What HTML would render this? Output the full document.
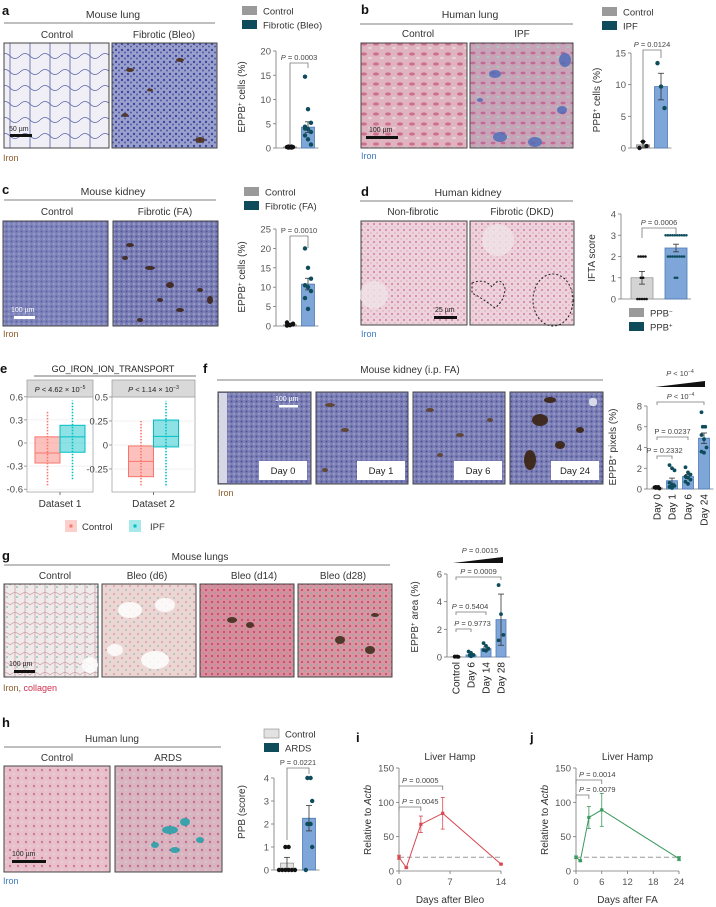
<!DOCTYPE html>
<html><head><meta charset="utf-8"><style>
html,body{margin:0;padding:0;background:#fff;}
svg{display:block;font-family:"Liberation Sans",sans-serif;}
</style></head><body>
<svg id="fig" width="716" height="907" viewBox="0 0 716 907" xmlns="http://www.w3.org/2000/svg">
<defs>
<pattern id="pLungC" width="20" height="16" patternUnits="userSpaceOnUse"><rect width="20" height="16" fill="#f0eff5"/><path d="M0 8 Q5 3 10 8 T20 8 M10 0 L10 16" stroke="#5a62aa" stroke-width="0.8" fill="none"/></pattern>
<pattern id="pLungF" width="6" height="6" patternUnits="userSpaceOnUse"><rect width="6" height="6" fill="#9aa0cc"/><circle cx="2" cy="2" r="1.2" fill="#3c46a0"/><circle cx="5" cy="4.5" r="1" fill="#5058a8"/></pattern>
<pattern id="pKidC" width="5" height="5" patternUnits="userSpaceOnUse"><rect width="5" height="5" fill="#7f84bb"/><circle cx="1.5" cy="1.5" r="1" fill="#5a60a4"/><circle cx="4" cy="4" r="0.7" fill="#b0b4d8"/></pattern>
<pattern id="pKidF" width="5" height="5" patternUnits="userSpaceOnUse"><rect width="5" height="5" fill="#7a7eb4"/><circle cx="1.5" cy="1.5" r="1" fill="#4e5498"/><circle cx="4" cy="4" r="0.8" fill="#b8bad8"/></pattern>
<pattern id="pHLC" width="12" height="10" patternUnits="userSpaceOnUse"><rect width="12" height="10" fill="#dfb3c0"/><ellipse cx="4" cy="4" rx="3" ry="1.6" fill="#cf6f8f"/><ellipse cx="10" cy="8" rx="2" ry="1.2" fill="#e8d4d8"/></pattern>
<pattern id="pHLF" width="10" height="10" patternUnits="userSpaceOnUse"><rect width="10" height="10" fill="#c8a4b8"/><ellipse cx="3" cy="3" rx="2.5" ry="1.4" fill="#c06a98"/><ellipse cx="8" cy="7" rx="1.6" ry="1" fill="#a9c8c0"/></pattern>
<pattern id="pHK" width="6" height="6" patternUnits="userSpaceOnUse"><rect width="6" height="6" fill="#ecd2da"/><circle cx="2" cy="2" r="1" fill="#d67aa0"/><circle cx="5" cy="5" r="0.7" fill="#e0a0b8"/></pattern>
<pattern id="pFK" width="5" height="5" patternUnits="userSpaceOnUse"><rect width="5" height="5" fill="#7d80b6"/><circle cx="1.5" cy="1.5" r="1" fill="#4c5298"/><circle cx="4" cy="4" r="0.7" fill="#b4b6d6"/></pattern>
<pattern id="pGC" width="10" height="10" patternUnits="userSpaceOnUse"><rect width="10" height="10" fill="#f1eaea"/><path d="M0 5 Q5 0 10 5 M5 0 L5 10" stroke="#c9a0a8" stroke-width="0.8" fill="none"/><circle cx="7" cy="7" r="0.8" fill="#55b0a0"/></pattern>
<pattern id="pG6" width="8" height="8" patternUnits="userSpaceOnUse"><rect width="8" height="8" fill="#ecd6d4"/><circle cx="2" cy="2" r="1" fill="#d2a0a4"/><circle cx="6" cy="6" r="0.7" fill="#60b0a0"/></pattern>
<pattern id="pG14" width="6" height="6" patternUnits="userSpaceOnUse"><rect width="6" height="6" fill="#d88d9c"/><circle cx="2" cy="2" r="1.1" fill="#c84a6a"/><circle cx="5" cy="5" r="0.6" fill="#68a898"/></pattern>
<pattern id="pG28" width="6" height="6" patternUnits="userSpaceOnUse"><rect width="6" height="6" fill="#d896a2"/><circle cx="2" cy="2" r="1.1" fill="#c8506c"/><circle cx="5" cy="5" r="0.8" fill="#78b0a8"/></pattern>
<pattern id="pHC" width="8" height="8" patternUnits="userSpaceOnUse"><rect width="8" height="8" fill="#e8c0cc"/><circle cx="2" cy="2" r="1.2" fill="#d07898"/><circle cx="6" cy="6" r="0.8" fill="#f2e0e4"/></pattern>
<pattern id="pHA" width="8" height="8" patternUnits="userSpaceOnUse"><rect width="8" height="8" fill="#d8b4c0"/><circle cx="2" cy="2" r="1.2" fill="#c86a90"/><circle cx="6" cy="6" r="0.8" fill="#e8d8dc"/></pattern>
</defs>

<g>
<text x="2" y="15" font-size="13" font-weight="bold" fill="#111">a</text>
<text x="113" y="18" font-size="10.5" text-anchor="middle" fill="#333">Mouse lung</text>
<line x1="4" y1="23" x2="215" y2="23" stroke="#555" stroke-width="0.8"/>
<text x="57" y="38" font-size="10" text-anchor="middle" fill="#333">Control</text>
<text x="164" y="38" font-size="10" text-anchor="middle" fill="#333">Fibrotic (Bleo)</text>
<rect x="4" y="43" width="105" height="105" fill="url(#pLungC)" stroke="#444"/>
<rect x="112" y="43" width="105" height="105" fill="url(#pLungF)" stroke="#444"/>
<g fill="#4a2a10" opacity="0.85"><ellipse cx="130" cy="70" rx="4" ry="2"/><ellipse cx="150" cy="90" rx="3" ry="1.5"/><ellipse cx="180" cy="60" rx="4" ry="2"/><ellipse cx="200" cy="140" rx="5" ry="3"/><ellipse cx="125" cy="115" rx="3" ry="2"/></g>
<rect x="10" y="134" width="22" height="3" fill="#111"/>
<text x="9" y="131" font-size="7" fill="#222">50 µm</text>
<text x="3" y="161" font-size="9" fill="#8a5a2a">Iron</text>
</g>

<g>
<text x="361" y="14" font-size="13" font-weight="bold" fill="#111">b</text>
<text x="470" y="18" font-size="10.5" text-anchor="middle" fill="#333">Human lung</text>
<line x1="360" y1="24" x2="573" y2="24" stroke="#555" stroke-width="0.8"/>
<text x="418" y="37" font-size="10" text-anchor="middle" fill="#333">Control</text>
<text x="522" y="37" font-size="10" text-anchor="middle" fill="#333">IPF</text>
<rect x="361" y="43" width="106" height="105" fill="url(#pHLC)" stroke="#444"/>
<rect x="470" y="43" width="103" height="105" fill="url(#pHLF)" stroke="#444"/>
<g fill="#4a6ab8" opacity="0.8"><ellipse cx="495" cy="74" rx="6" ry="4"/><ellipse cx="565" cy="60" rx="6" ry="7"/><ellipse cx="500" cy="137" rx="7" ry="5"/><ellipse cx="535" cy="142" rx="7" ry="5"/><ellipse cx="562" cy="110" rx="5" ry="4"/><ellipse cx="480" cy="100" rx="3" ry="2"/></g>
<rect x="366" y="136" width="32" height="3" fill="#111"/>
<text x="369" y="132" font-size="7" fill="#222">100 µm</text>
<text x="361" y="159" font-size="9" fill="#3a78c0">Iron</text>
</g>

<g>
<text x="2" y="194" font-size="13" font-weight="bold" fill="#111">c</text>
<text x="113" y="195" font-size="10.5" text-anchor="middle" fill="#333">Mouse kidney</text>
<line x1="4" y1="200" x2="216" y2="200" stroke="#555" stroke-width="0.8"/>
<text x="57" y="215" font-size="10" text-anchor="middle" fill="#333">Control</text>
<text x="165" y="215" font-size="10" text-anchor="middle" fill="#333">Fibrotic (FA)</text>
<rect x="3" y="221" width="105" height="105" fill="url(#pKidC)" stroke="#444"/>
<rect x="113" y="221" width="105" height="105" fill="url(#pKidF)" stroke="#444"/>
<g fill="#3a2010" opacity="0.85"><ellipse cx="130" cy="245" rx="4" ry="2"/><ellipse cx="150" cy="268" rx="5" ry="2"/><ellipse cx="170" cy="285" rx="4" ry="3"/><ellipse cx="160" cy="300" rx="3" ry="2"/><ellipse cx="180" cy="310" rx="4" ry="2"/><ellipse cx="200" cy="290" rx="3" ry="2"/><ellipse cx="140" cy="320" rx="3" ry="2"/><ellipse cx="125" cy="258" rx="3" ry="2"/><ellipse cx="210" cy="300" rx="3" ry="4"/></g>
<rect x="14" y="316" width="21" height="3" fill="#fff"/>
<text x="11" y="312" font-size="7" fill="#fff">100 µm</text>
<text x="3" y="337" font-size="9" fill="#8a5a2a">Iron</text>
</g>

<g>
<text x="361" y="196" font-size="13" font-weight="bold" fill="#111">d</text>
<text x="468" y="196" font-size="10.5" text-anchor="middle" fill="#333">Human kidney</text>
<line x1="360" y1="201" x2="573" y2="201" stroke="#555" stroke-width="0.8"/>
<text x="413" y="215" font-size="10" text-anchor="middle" fill="#333">Non-fibrotic</text>
<text x="522" y="215" font-size="10" text-anchor="middle" fill="#333">Fibrotic (DKD)</text>
<rect x="361" y="221" width="106" height="104" fill="url(#pHK)" stroke="#444"/>
<rect x="470" y="221" width="104" height="104" fill="url(#pHK)" stroke="#444"/>
<circle cx="374" cy="295" r="14" fill="#f0e4e8" opacity="0.8"/>
<circle cx="498" cy="240" r="16" fill="#f0e4e8" opacity="0.8"/>
<path d="M472 283 Q485 278 492 287 Q500 275 505 288 Q505 300 495 308 Q482 298 472 293 Z" fill="none" stroke="#222" stroke-dasharray="2,2"/>
<ellipse cx="553" cy="300" rx="20" ry="26" fill="none" stroke="#222" stroke-dasharray="2,2"/>
<rect x="434" y="316" width="23" height="3" fill="#111"/>
<text x="435" y="312" font-size="7" fill="#222">25 µm</text>
<text x="361" y="337" font-size="9" fill="#3a78c0">Iron</text>
</g>

<g>
<text x="0" y="373" font-size="13" font-weight="bold" fill="#111">e</text>
<text x="113" y="372" font-size="9" text-anchor="middle" fill="#222">GO_IRON_ION_TRANSPORT</text>
<line x1="34" y1="376" x2="196" y2="376" stroke="#444" stroke-width="0.7"/>
</g>

<g>
<text x="203" y="373" font-size="13" font-weight="bold" fill="#111">f</text>
<text x="410" y="373" font-size="10" text-anchor="middle" fill="#333">Mouse kidney (i.p. FA)</text>
<line x1="217" y1="380" x2="603" y2="380" stroke="#555" stroke-width="0.8"/>
<rect x="218" y="392" width="93" height="92" fill="url(#pFK)" stroke="#444"/>
<rect x="316" y="392" width="92" height="92" fill="url(#pFK)" stroke="#444"/>
<rect x="413" y="392" width="92" height="92" fill="url(#pFK)" stroke="#444"/>
<rect x="510" y="392" width="93" height="92" fill="url(#pFK)" stroke="#444"/>
<rect x="219" y="393" width="8" height="90" fill="#d8d8e4"/>
<g fill="#5a3a18" opacity="0.8"><ellipse cx="330" cy="405" rx="5" ry="2"/><ellipse cx="345" cy="430" rx="4" ry="2"/><ellipse cx="325" cy="470" rx="3" ry="2"/><ellipse cx="430" cy="410" rx="4" ry="2"/><ellipse cx="460" cy="435" rx="4" ry="2"/><ellipse cx="490" cy="420" rx="3" ry="2"/><ellipse cx="440" cy="455" rx="3" ry="2"/></g>
<g fill="#3a2210" opacity="0.9"><ellipse cx="540" cy="420" rx="8" ry="6"/><ellipse cx="530" cy="460" rx="6" ry="10"/><ellipse cx="560" cy="445" rx="5" ry="4"/><ellipse cx="550" cy="400" rx="6" ry="3"/><ellipse cx="580" cy="430" rx="4" ry="3"/></g>
<rect x="589" y="398" width="8" height="8" rx="3" fill="#d8dae8"/>
<rect x="279" y="405" width="19" height="2.5" fill="#fff"/>
<text x="275" y="401" font-size="7" fill="#fff">100 µm</text>
<rect x="259" y="461" width="48" height="19" fill="#fff"/><text x="283" y="474" font-size="9.5" text-anchor="middle" fill="#222">Day 0</text>
<rect x="357" y="461" width="48" height="19" fill="#fff"/><text x="381" y="474" font-size="9.5" text-anchor="middle" fill="#222">Day 1</text>
<rect x="454" y="461" width="48" height="19" fill="#fff"/><text x="478" y="474" font-size="9.5" text-anchor="middle" fill="#222">Day 6</text>
<rect x="551" y="461" width="48" height="19" fill="#fff"/><text x="575" y="474" font-size="9.5" text-anchor="middle" fill="#222">Day 24</text>
<text x="218" y="496" font-size="9" fill="#8a5a2a">Iron</text>
</g>

<g>
<text x="2" y="560" font-size="13" font-weight="bold" fill="#111">g</text>
<text x="200" y="560" font-size="10" text-anchor="middle" fill="#333">Mouse lungs</text>
<line x1="4" y1="565" x2="390" y2="565" stroke="#555" stroke-width="0.8"/>
<text x="55" y="579" font-size="10" text-anchor="middle" fill="#333">Control</text>
<text x="147" y="579" font-size="10" text-anchor="middle" fill="#333">Bleo (d6)</text>
<text x="254" y="579" font-size="10" text-anchor="middle" fill="#333">Bleo (d14)</text>
<text x="343" y="579" font-size="10" text-anchor="middle" fill="#333">Bleo (d28)</text>
<rect x="4" y="584" width="94" height="93" fill="url(#pGC)" stroke="#444"/>
<rect x="102" y="584" width="94" height="93" fill="url(#pG6)" stroke="#444"/>
<rect x="200" y="584" width="94" height="93" fill="url(#pG14)" stroke="#444"/>
<rect x="298" y="584" width="94" height="93" fill="url(#pG28)" stroke="#444"/>
<g fill="#fff" opacity="0.85"><ellipse cx="130" cy="610" rx="12" ry="8"/><ellipse cx="165" cy="605" rx="10" ry="7"/><ellipse cx="155" cy="660" rx="14" ry="9"/><ellipse cx="115" cy="650" rx="8" ry="6"/><ellipse cx="90" cy="665" rx="8" ry="8"/></g>
<g fill="#3a2a18" opacity="0.85"><ellipse cx="232" cy="620" rx="5" ry="3"/><ellipse cx="250" cy="625" rx="4" ry="3"/><ellipse cx="340" cy="640" rx="5" ry="4"/><ellipse cx="370" cy="650" rx="5" ry="4"/><ellipse cx="375" cy="615" rx="4" ry="2"/></g>
<rect x="14" y="670" width="21" height="3" fill="#111"/>
<text x="9" y="666" font-size="7" fill="#222">100 µm</text>
<text x="3" y="691" font-size="9" fill="#8a5a2a">Iron, <tspan fill="#d03050">collagen</tspan></text>
</g>

<g>
<text x="2" y="727" font-size="13" font-weight="bold" fill="#111">h</text>
<text x="112" y="742" font-size="10" text-anchor="middle" fill="#333">Human lung</text>
<line x1="4" y1="747" x2="221" y2="747" stroke="#555" stroke-width="0.8"/>
<text x="57" y="761" font-size="10" text-anchor="middle" fill="#333">Control</text>
<text x="168" y="761" font-size="10" text-anchor="middle" fill="#333">ARDS</text>
<rect x="4" y="766" width="106" height="106" fill="url(#pHC)" stroke="#444"/>
<rect x="115" y="766" width="107" height="106" fill="url(#pHA)" stroke="#444"/>
<g fill="#20a0a8" opacity="0.85"><ellipse cx="170" cy="830" rx="8" ry="4"/><ellipse cx="185" cy="822" rx="5" ry="4"/><ellipse cx="155" cy="845" rx="4" ry="3"/><ellipse cx="200" cy="840" rx="4" ry="3"/><ellipse cx="175" cy="850" rx="5" ry="3"/></g>
<rect x="12" y="860" width="34" height="3" fill="#111"/>
<text x="12" y="856" font-size="7" fill="#222">100 µm</text>
<text x="3" y="884" font-size="9" fill="#3a78c0">Iron</text>
</g>

<text x="356" y="742" font-size="13" font-weight="bold" fill="#111">i</text>
<text x="530" y="742" font-size="13" font-weight="bold" fill="#111">j</text>
</svg>

<script>
// a
const aCats = ['Control', 'Fibrotic (Bleo)'];
const aVals = [0.2, 4.3];
const aErr = [0.05, 1.1];
const aDots0 = [0.1, 0.2, 0.3, 0.2, 0.1, 0.3, 0.2];
const aDots1 = [14.7, 8.0, 5.2, 4.4, 3.9, 3.3, 2.6, 1.8, 0.7, 4.0];
const aTicks = [0, 5, 10, 15, 20];
// b
const bCats = ['Control', 'IPF'];
const bVals = [0.5, 9.7];
const bErr = [0.5, 2.1];
const bDots0 = [0.0, 1.0, 0.3];
const bDots1 = [13.4, 9.7, 6.3];
const bTicks = [0, 5, 10, 15];
// c
const cCats = ['Control', 'Fibrotic (FA)'];
const cVals = [0.3, 10.8];
const cErr = [0.1, 1.5];
const cDots0 = [0.1, 0.3, 0.6, 0.9, 0.2, 0.4];
const cDots1 = [20, 15, 12.2, 10.5, 10, 9, 7.2, 4.4];
const cTicks = [0, 5, 10, 15, 20, 25];
// d
const dCats = ['PPB−', 'PPB+'];
const dVals = [1.0, 2.4];
const dErr = [0.3, 0.18];
const dDots0 = [2, 2, 2, 2, 1, 1, 0, 0, 0, 0, 0];
const dDots1 = [3, 3, 3, 3, 3, 3, 3, 3, 3, 3, 2, 2, 2, 2, 2, 2, 2, 2, 1, 1];
const dTicks = [0, 1, 2, 3, 4];
// e
const eGroups = ['Dataset 1', 'Dataset 2'];
const eCtrlBox = [[-0.55, -0.26, -0.13, 0.08, 0.42], [-0.42, -0.33, -0.17, -0.01, 0.25]];
const eIpfBox = [[-0.47, -0.12, 0.08, 0.23, 0.55], [-0.42, -0.02, 0.09, 0.26, 0.46]];
const eTicks1 = [-0.6, -0.3, 0, 0.3, 0.6];
const eTicks2 = [-0.25, 0, 0.25, 0.5];
const eTickLabels1 = ['-0.6', '-0.3', '0', '0.3', '0.6'];
const eTickLabels2 = ['-0.25', '0', '0.25', '0.5'];
// f
const fCats = ['Day 0', 'Day 1', 'Day 6', 'Day 24'];
const fVals = [0.1, 0.8, 1.2, 4.9];
const fErr = [0.05, 0.25, 0.2, 0.5];
const fDots = [[0.1, 0.2, 0.05, 0.15, 0.1, 0.2], [2.3, 2.0, 1.8, 0.6, 0.4, 0.3, 0.2, 0.1], [2.1, 1.6, 1.4, 1.2, 1.1, 0.9, 0.7, 0.5], [7.4, 6.0, 6.0, 5.2, 4.8, 4.0, 3.6, 3.5]];
const fTicks = [0, 2, 4, 6, 8];
// g
const gCats = ['Control', 'Day 6', 'Day 14', 'Day 28'];
const gVals = [0.02, 0.15, 0.6, 2.7];
const gErr = [0.01, 0.06, 0.12, 1.85];
const gDots = [[0.02, 0.03, 0.01, 0.02, 0.03], [0.4, 0.3, 0.15, 0.1, 0.05, 0.1], [1.0, 0.8, 0.6, 0.5, 0.45], [5.2, 3.1, 1.6, 1.2]];
const gTicks = [0, 2, 4, 6];
// h
const hCats = ['Control', 'ARDS'];
const hVals = [0.3, 2.25];
const hErr = [0.25, 0.55];
const hDots0 = [1, 1, 0, 0, 0, 0, 0, 0];
const hDots1 = [4, 4, 3, 2, 2, 1, 0];
const hTicks = [0, 1, 2, 3, 4];
// i
const iDays = [0, 1, 3, 6, 14];
const iVals = [20, 5, 68, 84, 10];
const iErr = [3, 1, 12, 23, 1];
const iXTicks = [0, 7, 14];
// j
const jDays = [0, 1, 3, 6, 24];
const jVals = [20, 15, 78, 89, 18];
const jErr = [2, 1, 16, 24, 3];
const jXTicks = [0, 6, 12, 18, 24];
const lineYTicks = [0, 50, 100, 150];
const baselineHamp = 20;

const NS = 'http://www.w3.org/2000/svg';
const svg = document.getElementById('fig');
function mk(tag, attrs, parent) {
  const e = document.createElementNS(NS, tag);
  for (const k in attrs) e.setAttribute(k, attrs[k]);
  (parent || svg).appendChild(e);
  return e;
}
function nm(e, n) {
  
  
}
function txt(x, y, s, attrs, parent) {
  const t = mk('text', Object.assign({x: x, y: y, 'font-size': 8, fill: '#444'}, attrs || {}), parent);
  t.textContent = s;
  return t;
}
function ylabel(x, y, html, name) {
  const t = mk('text', {x: 0, y: 0, 'font-size': 10, fill: '#333', 'text-anchor': 'middle', transform: 'translate(' + x + ',' + y + ') rotate(-90)'});
  t.innerHTML = html;
  nm(t, name);
}
function legend(x, y, items, name) {
  const g = mk('g', {});
  nm(g, name);
  items.forEach((it, k) => {
    const r = mk('rect', {x: x, y: y + k * 14, width: 15, height: 9, fill: it[1], stroke: it[2] || 'none', 'stroke-width': 0.6}, g);
    nm(r, 'legend-swatch-' + k);
    const t = mk('text', {x: x + 21, y: y + k * 14 + 8.5, 'font-size': 9.5, fill: '#333'}, g);
    t.innerHTML = it[0];
    nm(t, 'legend-entry-' + k);
  });
}
function barChart(o) {
  const g = mk('g', {});
  nm(g, o.name);
  const top = o.ticks[o.ticks.length - 1];
  const ys = v => o.y0 - (v / top) * (o.y0 - o.yTop);
  const al = mk('line', {x1: o.ax, y1: o.y0, x2: o.ax, y2: o.yTop, stroke: '#777', 'stroke-width': 0.8}, g);
  nm(al, 'y-axis');
  o.ticks.forEach(t => {
    mk('line', {x1: o.ax - 3, x2: o.ax, y1: ys(t), y2: ys(t), stroke: '#777', 'stroke-width': 0.8}, g);
    const tl = txt(o.ax - 5, ys(t) + 3.5, String(t), {'text-anchor': 'end', 'font-size': 9.5, fill: '#555'}, g);
    nm(tl, 'y-tick-label');
  });
  const last = o.centers[o.centers.length - 1];
  const xl = mk('line', {x1: o.ax, x2: last + o.w / 2 + 4, y1: o.y0, y2: o.y0, stroke: '#777', 'stroke-width': 0.8}, g);
  nm(xl, 'x-axis');
  o.vals.forEach((v, i) => {
    const c = o.centers[i];
    const b = mk('rect', {x: c - o.w / 2, y: ys(v), width: o.w, height: o.y0 - ys(v), fill: o.fills[i], stroke: o.strokes[i], 'stroke-width': 0.8}, g);
    nm(b, 'bar-' + o.cats[i].toLowerCase().replace(/[^a-z0-9]+/g, '-'));
    const e1 = ys(v + o.errs[i]), e2 = ys(Math.max(0, v - o.errs[i]));
    mk('line', {x1: c, x2: c, y1: e1, y2: e2, stroke: '#333', 'stroke-width': 0.8}, g);
    mk('line', {x1: c - 3, x2: c + 3, y1: e1, y2: e1, stroke: '#333', 'stroke-width': 0.8}, g);
    mk('line', {x1: c - 3, x2: c + 3, y1: e2, y2: e2, stroke: '#333', 'stroke-width': 0.8}, g);
    const ds = o.dots[i];
    const seen = {};
    ds.forEach(d => { seen[d] = (seen[d] || 0) + 1; });
    const idx = {};
    ds.forEach((d, j) => {
      idx[d] = (idx[d] || 0);
      const m = seen[d];
      let dx;
      if (m > 1) dx = (idx[d] - (m - 1) / 2) * o.spread;
      else dx = ((j % 3) - 1) * o.spread;
      idx[d]++;
      const p = mk('circle', {cx: c + dx, cy: ys(d), r: o.r || 2.2, fill: o.dotColors[i]}, g);
      nm(p, 'data-point');
    });
    if (o.xlabels) {
      const t = mk('text', {x: 0, y: 0, 'font-size': 10, fill: '#222', 'text-anchor': 'end', transform: 'translate(' + (c + 3.5) + ',' + (o.y0 + 5) + ') rotate(-90)'}, g);
      t.textContent = o.cats[i];
      nm(t, 'x-tick-label');
    }
  });
  (o.brackets || []).forEach(br => {
    const x1 = o.centers[br[0]], x2 = o.centers[br[1]];
    const y = br[2];
    const p = mk('path', {d: 'M' + x1 + ' ' + (y + br[3]) + ' V' + y + ' H' + x2 + ' V' + (y + br[4]), stroke: '#777', 'stroke-width': 0.8, fill: 'none'}, g);
    nm(p, 'significance-bracket');
    const t = mk('text', {x: (x1 + x2) / 2 + (br[6] || 0), y: y - 3, 'font-size': 7.5, fill: '#444', 'text-anchor': 'middle'}, g);
    t.innerHTML = br[5];
    nm(t, 'p-value-label');
  });
}

const BLUE = '#7ea6d8', BLUES = '#4c7bb8', TEAL = '#0e4c5c', GRAY = '#9a9a9a';

legend(242, 6, [['Control', GRAY], ['Fibrotic (Bleo)', TEAL]], 'legend-a');
ylabel(245, 97, 'EPPB<tspan baseline-shift="super" font-size="6">+</tspan> cells (%)', 'y-axis-title-a');
barChart({name: 'chart-a', ax: 276, y0: 148, yTop: 51, ticks: aTicks, centers: [290, 308], w: 13, vals: aVals, errs: aErr, cats: aCats,
  dots: [aDots0, aDots1], fills: ['#bbb', BLUE], strokes: ['#888', BLUES], dotColors: ['#111', TEAL], spread: 3,
  brackets: [[0, 1, 63, 82, 5, '<tspan font-style="italic">P</tspan> = 0.0003']]});
legend(602, 7, [['Control', GRAY], ['IPF', TEAL]], 'legend-b');
ylabel(600, 100, 'PPB<tspan baseline-shift="super" font-size="6">+</tspan> cells (%)', 'y-axis-title-b');
barChart({name: 'chart-b', ax: 631, y0: 148, yTop: 53, ticks: bTicks, centers: [643, 661], w: 13, vals: bVals, errs: bErr, cats: bCats,
  dots: [bDots0, bDots1], fills: ['#bbb', BLUE], strokes: ['#888', BLUES], dotColors: ['#111', TEAL], spread: 3.5,
  brackets: [[0, 1, 50, 90, 8, '<tspan font-style="italic">P</tspan> = 0.0124']]});
legend(244, 187, [['Control', GRAY], ['Fibrotic (FA)', TEAL]], 'legend-c');
ylabel(245, 277, 'EPPB<tspan baseline-shift="super" font-size="6">+</tspan> cells (%)', 'y-axis-title-c');
barChart({name: 'chart-c', ax: 276, y0: 326, yTop: 229, ticks: cTicks, centers: [290, 308], w: 13, vals: cVals, errs: cErr, cats: cCats,
  dots: [cDots0, cDots1], fills: ['#bbb', BLUE], strokes: ['#888', BLUES], dotColors: ['#111', TEAL], spread: 3,
  brackets: [[0, 1, 236, 85, 12, 'P = 0.0010']]});
ylabel(595, 258, 'IFTA score', 'y-axis-title-d');
barChart({name: 'chart-d', ax: 621, y0: 299, yTop: 214, ticks: dTicks, centers: [642, 676], w: 22, vals: dVals, errs: dErr, cats: dCats,
  dots: [dDots0, dDots1], fills: ['#d4d4d4', BLUE], strokes: ['#999', BLUES], dotColors: ['#111', TEAL], spread: 2.3, r: 1.3,
  brackets: [[0, 1, 228, 10, 6, '<tspan font-style="italic">P</tspan> = 0.0006']]});
legend(629, 308, [['PPB<tspan baseline-shift="super" font-size="6">−</tspan>', GRAY], ['PPB<tspan baseline-shift="super" font-size="6">+</tspan>', TEAL]], 'legend-d');
ylabel(616, 447, 'EPPB<tspan baseline-shift="super" font-size="6">+</tspan> pixels (%)', 'y-axis-title-f');
barChart({name: 'chart-f', ax: 647, y0: 489, yTop: 406, ticks: fTicks, centers: [657, 672, 688, 704], w: 11, vals: fVals, errs: fErr, cats: fCats,
  dots: fDots, fills: ['#bbb', BLUE, BLUE, BLUE], strokes: ['#888', BLUES, BLUES, BLUES], dotColors: ['#111', TEAL, TEAL, TEAL], spread: 2.5, r: 1.9, xlabels: true,
  brackets: [[0, 3, 402, 3, 3, '<tspan font-style="italic">P</tspan> &lt; 10<tspan baseline-shift="super" font-size="5">−4</tspan>'], [0, 2, 437, 3, 3, 'P = 0.0237'], [0, 1, 456, 3, 3, 'P = 0.2332']]});
{
  const tri = mk('polygon', {points: '655,387 705,381 705,387', fill: '#111'});
  nm(tri, 'trend-triangle-f');
  const t = txt(680, 376, '', {'font-size': 7.5, 'text-anchor': 'middle'});
  t.innerHTML = '<tspan font-style="italic">P</tspan> &lt; 10<tspan baseline-shift="super" font-size="5">−4</tspan>';
  nm(t, 'p-value-trend-f');
}
ylabel(418, 617, 'EPPB<tspan baseline-shift="super" font-size="6">+</tspan> area (%)', 'y-axis-title-g');
barChart({name: 'chart-g', ax: 447, y0: 657, yTop: 574, ticks: gTicks, centers: [456, 471, 486, 501], w: 10, vals: gVals, errs: gErr, cats: gCats,
  dots: gDots, fills: ['#bbb', BLUE, BLUE, BLUE], strokes: ['#888', BLUES, BLUES, BLUES], dotColors: ['#111', TEAL, TEAL, TEAL], spread: 2.4, r: 1.9, xlabels: true,
  brackets: [[0, 3, 577, 3, 3, '<tspan font-style="italic">P</tspan> = 0.0009'], [0, 2, 612, 3, 3, '<tspan font-style="italic">P</tspan> = 0.5404', -1], [0, 1, 629, 3, 3, '<tspan font-style="italic">P</tspan> = 0.9773', 9]]});
{
  const tri = mk('polygon', {points: '453,563 503,557 503,563', fill: '#111'});
  nm(tri, 'trend-triangle-g');
  const t = txt(480, 553, '', {'font-size': 7.5, 'text-anchor': 'middle'});
  t.innerHTML = '<tspan font-style="italic">P</tspan> = 0.0015';
  nm(t, 'p-value-trend-g');
}
legend(264, 729, [['Control', '#e2e2e2', '#888'], ['ARDS', TEAL]], 'legend-h');
ylabel(245, 812, 'PPB (score)', 'y-axis-title-h');
barChart({name: 'chart-h', ax: 274, y0: 870, yTop: 778, ticks: hTicks, centers: [287, 309], w: 13, vals: hVals, errs: hErr, cats: hCats,
  dots: [hDots0, hDots1], fills: ['#e4e4e4', BLUE], strokes: ['#999', BLUES], dotColors: ['#111', TEAL], spread: 3.2,
  brackets: [[0, 1, 768, 72, 6, 'P = 0.0221']]});

function facet(x0, x1, yOf, ticks, tlabels, ctrl, ipf, header, grp, name) {
  const g = mk('g', {});
  nm(g, name);
  const yt = 397, yb = 492;
  mk('rect', {x: x0, y: yt, width: x1 - x0, height: yb - yt, fill: '#fff', stroke: '#999', 'stroke-width': 0.7}, g);
  ticks.forEach((t, k) => {
    mk('line', {x1: x0, x2: x1, y1: yOf(t), y2: yOf(t), stroke: '#eee', 'stroke-width': 0.7}, g);
    mk('line', {x1: x0 - 3, x2: x0, y1: yOf(t), y2: yOf(t), stroke: '#777', 'stroke-width': 0.7}, g);
    const tl = txt(x0 - 4, yOf(t) + 3.5, tlabels[k], {'text-anchor': 'end', 'font-size': 9.5, fill: '#444'}, g);
    nm(tl, 'y-tick-label');
  });
  const hr = mk('rect', {x: x0, y: 380, width: x1 - x0, height: 17, fill: '#d9d9d9', stroke: '#999', 'stroke-width': 0.7}, g);
  nm(hr, 'facet-header');
  const ht = txt((x0 + x1) / 2, 392, '', {'text-anchor': 'middle', 'font-size': 7.5, fill: '#222'}, g);
  ht.innerHTML = header;
  nm(ht, 'facet-p-value');
  const mid = (x0 + x1) / 2;
  [[ctrl, mid - 12.5, '#f8766d', 'box-control'], [ipf, mid + 12.5, '#00bfc4', 'box-ipf']].forEach(s => {
    const q = s[0], c = s[1], col = s[2];
    mk('line', {x1: c, x2: c, y1: yOf(q[0]), y2: yOf(q[4]), stroke: col, 'stroke-width': 1.6, 'stroke-dasharray': '1.5,1.5'}, g);
    const b = mk('rect', {x: c - 12.5, y: yOf(q[3]), width: 25, height: yOf(q[1]) - yOf(q[3]), fill: col, 'fill-opacity': 0.45, stroke: col, 'stroke-width': 1}, g);
    nm(b, s[3]);
    mk('line', {x1: c - 12.5, x2: c + 12.5, y1: yOf(q[2]), y2: yOf(q[2]), stroke: col, 'stroke-width': 1}, g);
  });
  mk('line', {x1: mid, x2: mid, y1: yb, y2: yb + 3, stroke: '#777'}, g);
  const gl = txt(mid, 507, grp, {'text-anchor': 'middle', 'font-size': 10, fill: '#333'}, g);
  nm(gl, 'x-tick-label');
}
facet(27, 93, v => 443 - v * 77, eTicks1, eTickLabels1, eCtrlBox[0], eIpfBox[0], '<tspan font-style="italic">P</tspan> &lt; 4.62 × 10<tspan baseline-shift="super" font-size="5">−5</tspan>', eGroups[0], 'facet-dataset-1');
facet(112, 195, v => 445 - v * 96, eTicks2, eTickLabels2, eCtrlBox[1], eIpfBox[1], '<tspan font-style="italic">P</tspan> &lt; 1.14 × 10<tspan baseline-shift="super" font-size="5">−3</tspan>', eGroups[1], 'facet-dataset-2');
{
  const g = mk('g', {});
  nm(g, 'legend-e');
  mk('rect', {x: 65, y: 520, width: 12, height: 12, fill: '#f8766d', 'fill-opacity': 0.35}, g);
  mk('rect', {x: 69.5, y: 524.5, width: 3, height: 3, fill: '#f8766d'}, g);
  const t1 = txt(82, 530, 'Control', {'font-size': 9.5, fill: '#333'}, g);
  nm(t1, 'legend-entry-control');
  mk('rect', {x: 129, y: 520, width: 12, height: 12, fill: '#00bfc4', 'fill-opacity': 0.35}, g);
  mk('rect', {x: 133.5, y: 524.5, width: 3, height: 3, fill: '#00bfc4'}, g);
  const t2 = txt(150, 530, 'IPF', {'font-size': 9.5, fill: '#333'}, g);
  nm(t2, 'legend-entry-ipf');
}

function lineChart(o) {
  const g = mk('g', {});
  nm(g, o.name);
  const y0 = 871, yT = 768;
  const ys = v => y0 - v / 150 * (y0 - yT);
  const xs = d => o.xa + d / o.xmax * (o.xb - o.xa);
  const tt = txt((o.xa + o.xb) / 2, 760, 'Liver Hamp', {'text-anchor': 'middle', 'font-size': 10, fill: '#333'}, g);
  nm(tt, 'chart-title');
  mk('line', {x1: o.xa, x2: o.xa, y1: y0, y2: yT, stroke: '#777', 'stroke-width': 0.8}, g);
  mk('line', {x1: o.xa, x2: o.xb, y1: y0, y2: y0, stroke: '#777', 'stroke-width': 0.8}, g);
  lineYTicks.forEach(t => {
    mk('line', {x1: o.xa - 3, x2: o.xa, y1: ys(t), y2: ys(t), stroke: '#777', 'stroke-width': 0.8}, g);
    const l = txt(o.xa - 5, ys(t) + 3.5, String(t), {'text-anchor': 'end', 'font-size': 9.5, fill: '#555'}, g);
    nm(l, 'y-tick-label');
  });
  o.xticks.forEach(t => {
    mk('line', {x1: xs(t), x2: xs(t), y1: y0, y2: y0 + 3, stroke: '#777', 'stroke-width': 0.8}, g);
    const l = txt(xs(t), y0 + 14, String(t), {'text-anchor': 'middle', 'font-size': 9.5, fill: '#555'}, g);
    nm(l, 'x-tick-label');
  });
  const xt = txt((o.xa + o.xb) / 2, 903, o.xlabel, {'text-anchor': 'middle', 'font-size': 10, fill: '#333'}, g);
  nm(xt, 'x-axis-title');
  const yl = mk('text', {x: 0, y: 0, 'font-size': 10, fill: '#333', 'text-anchor': 'middle', transform: 'translate(' + (o.xa - 28) + ',820) rotate(-90)'}, g);
  yl.innerHTML = 'Relative to <tspan font-style="italic">Actb</tspan>';
  nm(yl, 'y-axis-title');
  const bl = mk('line', {x1: o.xa, x2: o.xb, y1: ys(baselineHamp), y2: ys(baselineHamp), stroke: '#999', 'stroke-width': 1, 'stroke-dasharray': '5,3'}, g);
  nm(bl, 'baseline-dashed');
  const pts = o.days.map((d, i) => xs(d) + ',' + ys(o.vals[i])).join(' ');
  const pl = mk('polyline', {points: pts, fill: 'none', stroke: o.col, 'stroke-width': 1}, g);
  nm(pl, 'series-line');
  o.days.forEach((d, i) => {
    const x = xs(d);
    mk('line', {x1: x, x2: x, y1: ys(o.vals[i] + o.errs[i]), y2: ys(o.vals[i] - o.errs[i]), stroke: o.col, 'stroke-width': 0.8}, g);
    mk('line', {x1: x - 2, x2: x + 2, y1: ys(o.vals[i] + o.errs[i]), y2: ys(o.vals[i] + o.errs[i]), stroke: o.col, 'stroke-width': 0.8}, g);
    mk('line', {x1: x - 2, x2: x + 2, y1: ys(o.vals[i] - o.errs[i]), y2: ys(o.vals[i] - o.errs[i]), stroke: o.col, 'stroke-width': 0.8}, g);
    const p = mk('rect', {x: x - 1.6, y: ys(o.vals[i]) - 1.6, width: 3.2, height: 3.2, fill: o.col}, g);
    nm(p, 'data-point');
  });
  o.brackets.forEach(br => {
    const x1 = xs(o.days[br[0]]), x2 = xs(o.days[br[1]]);
    const p = mk('path', {d: 'M' + x1 + ' ' + (br[2] + 4) + ' V' + br[2] + ' H' + x2 + ' V' + (br[2] + 4), stroke: '#777', fill: 'none', 'stroke-width': 0.8}, g);
    nm(p, 'significance-bracket');
    const t = txt(x1 + 3, br[2] - 3, '', {'font-size': 7.5, fill: '#444'}, g);
    t.innerHTML = '<tspan font-style="italic">P</tspan> = ' + br[3];
    nm(t, 'p-value-label');
  });
}
lineChart({name: 'chart-i', xa: 399, xb: 501, xmax: 14, days: iDays, vals: iVals, errs: iErr, xticks: iXTicks, col: '#d9474f', xlabel: 'Days after Bleo',
  brackets: [[0, 3, 786, '0.0005'], [0, 2, 807, '0.0045']]});
lineChart({name: 'chart-j', xa: 576, xb: 679, xmax: 24, days: jDays, vals: jVals, errs: jErr, xticks: jXTicks, col: '#3a9a5e', xlabel: 'Days after FA',
  brackets: [[0, 3, 780, '0.0014'], [0, 2, 795, '0.0079']]});
</script>
</body></html>
